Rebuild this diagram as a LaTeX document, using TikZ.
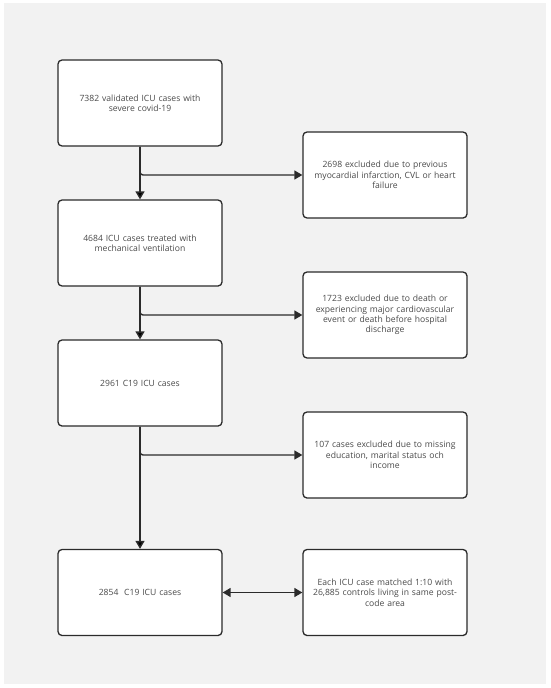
\documentclass[tikz,border=0pt]{standalone}
\usepackage{fontspec}
\setmainfont{Open Sans}
\usepackage{tikz}
\usetikzlibrary{positioning, arrows.meta}
\definecolor{bggray}{HTML}{F2F2F2}
\definecolor{linegray}{HTML}{2B2B2B}
\definecolor{textgray}{HTML}{4A4A4A}

\begin{document}
\begin{tikzpicture}[x=1pt, y=-1pt, node distance=140pt, on grid,
	flowbox/.style={draw=linegray, fill=white, line width=1.3pt, rounded corners=4pt,
		minimum width=164pt, minimum height=86pt, text width=160pt, align=center,
		text=textgray, font=\fontsize{8.6}{10.4}\selectfont, inner sep=0pt},
	arr/.style={draw=linegray, line width=1.4pt, -{Triangle[length=8pt, width=9pt]}},
	darr/.style={draw=linegray, line width=1.4pt, {Triangle[length=8pt, width=9pt]}-{Triangle[length=8pt, width=9pt]}}]
	\useasboundingbox (0,0) rectangle (550,688);
	\fill[white] (0,0) rectangle (550,688);
	\fill[bggray] (4,3) rectangle (546,684);
	\node[flowbox] (b1) at (140,103) {7382 validated ICU cases with\\severe covid-19}; 
	\node[flowbox] (b2) [below=of b1] {4684 ICU cases treated with\\mechanical ventilation}; 
	\node[flowbox] (b3) [below=of b2] {2961 C19 ICU cases}; 
	\node[flowbox] (b4) [below=209.5pt of b3] {2854\ \ C19 ICU cases}; 
	\node[flowbox] (e1) at (385,175) {2698 excluded due to previous\\myocardial infarction, CVL or heart\\failure}; 
	\node[flowbox] (e2) [below=of e1] {1723 excluded due to death or\\experiencing major cardiovascular\\event or death before hospital\\discharge}; 
	\node[flowbox] (e3) [below=of e2] {107 cases excluded due to missing\\education, marital status och\\income}; 
	\node[flowbox] (e4) [right=245pt of b4] {Each ICU case matched 1:10 with\\26,885 controls living in same post-\\code area}; 
	\path[arr] 
	(b1) edge (b2)
	(b2) edge (b3)
	(b3) edge (b4)
	;
	\draw[arr, rounded corners=3pt] (b1.south) |- (e1.west);
	\draw[arr, rounded corners=3pt] (b2.south) |- (e2.west);
	\draw[arr, rounded corners=3pt] (b3.south) |- (e3.west);
	\draw[darr] (b4) -- (e4);
	
\end{tikzpicture}
\end{document}
